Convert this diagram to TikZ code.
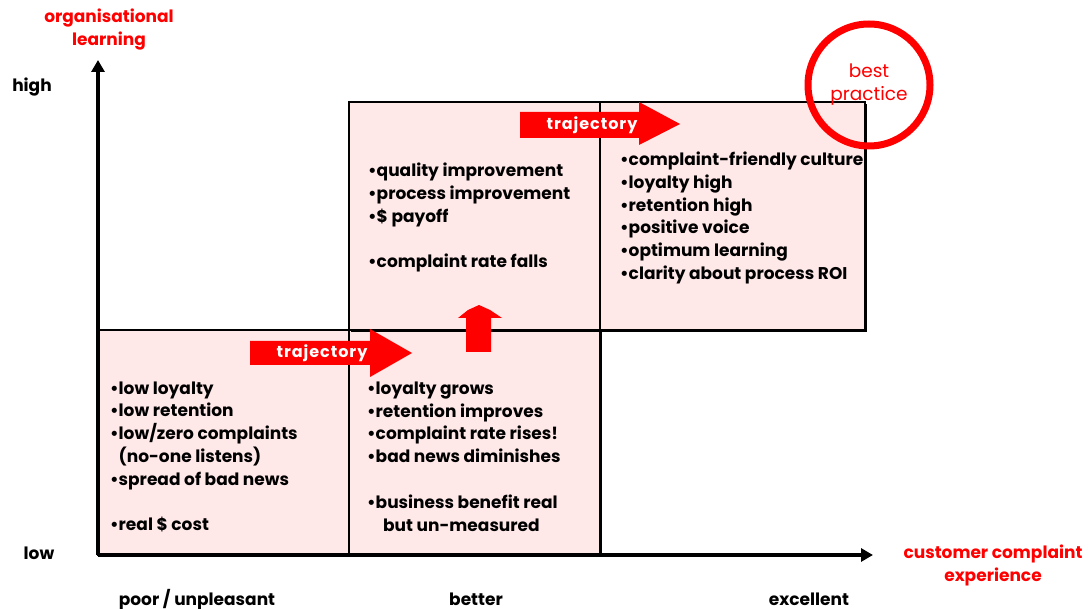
\documentclass[tikz,border=0pt]{standalone}
\usepackage{fontspec}
\setmainfont{Poppins}
\usetikzlibrary{arrows.meta,shadows}
\definecolor{boxpink}{RGB}{255,232,232}
\definecolor{hotred}{RGB}{255,0,0}

\begin{document}
\begin{tikzpicture}[x=1pt,y=-1pt,
  quad/.style={draw=black, line width=1.3pt, fill=boxpink, inner sep=0pt,
    drop shadow={shadow xshift=2pt, shadow yshift=-2pt, opacity=1, fill=black}},
  axisline/.style={line width=3.5pt, -{Triangle[length=12pt,width=13pt]}},
  axislabel/.style={inner sep=0pt, font=\fontsize{17}{23}\selectfont\bfseries},
  redlabel/.style={axislabel, text=hotred, align=center},
  bullets/.style={anchor=west, inner sep=0pt, align=left,
    font=\fontsize{17}{22.8}\selectfont\bfseries},
  trajtext/.style={inner sep=0pt, text=white,
    font=\fontsize{16}{18}\selectfont\bfseries\addfontfeature{LetterSpace=6}},
  bigarrow/.style={fill=hotred},
]
\useasboundingbox (0,0) rectangle (1090,609);

% the four quadrant panels
\node[quad, minimum width=251pt, minimum height=225pt] (poor)   at (223.5,442.5) {};
\node[quad, minimum width=251pt, minimum height=225pt] (better) at (474.5,442.5) {};
\node[quad, minimum width=251pt, minimum height=228pt] (learn)  at (474.5,216) {};
\node[quad, minimum width=265pt, minimum height=228pt] (best)   at (732.5,216) {};

% axes
\coordinate (origin) at (98,555);
\coordinate (ytip) at (98,60);
\coordinate (xtip) at (873,555);
\draw[axisline] (origin) -- (ytip);
\draw[axisline] (origin) -- (xtip);

% axis labels
\node[redlabel] (ylabel) at (109,30) {organisational\\learning};
\node[axislabel] (high) at (32,87) {high};
\node[axislabel] (low) at (39,553) {low};
\node[redlabel] (xlabel) at (993,565) {customer complaint\\experience};
\node[axislabel, anchor=base] (xpoor) at (197,605) {poor / unpleasant};
\node[axislabel, anchor=base] (xbetter) at (476,605) {better};
\node[axislabel, anchor=base] (xexcellent) at (809,605) {excellent};

% trajectory arrows
\fill[bigarrow] (250,341) -- (370,341) -- (370,329) -- (412,353) -- (370,377) -- (370,365) -- (250,365) -- cycle;
\node[trajtext] (traj1) at (322,353) {trajectory};
\fill[bigarrow] (520,112) -- (639,112) -- (639,102) -- (680,124) -- (639,145) -- (639,138) -- (520,138) -- cycle;
\node[trajtext] (traj2) at (592,125) {trajectory};
\fill[bigarrow] (466,352) -- (466,318) -- (458,318) -- (468,310) -- (479,305) -- (490,310) -- (502,318) -- (491,318) -- (491,352) -- cycle;

% best practice ring
\node[circle, draw=hotred, line width=7pt, minimum size=122pt, inner sep=0pt,
  align=center, text=hotred, font=\fontsize{18.5}{23}\selectfont] (ring) at (869,85) {best\\practice};

% quadrant contents
\node[bullets] (poortext) at (110,457) {\textbullet low loyalty\\
\textbullet low retention\\
\textbullet low/zero complaints\\
\hphantom{\textbullet}(no-one listens)\\
\textbullet spread of bad news\\[22.8pt]
\textbullet real \$ cost};
\node[bullets] (bettertext) at (367,456.5) {\textbullet loyalty grows\\
\textbullet retention improves\\
\textbullet complaint rate rises!\\
\textbullet bad news diminishes\\[22.8pt]
\textbullet business benefit real\\
\hspace{16pt}but un-measured};
\node[bullets] (learntext) at (368,217.5) {\textbullet quality improvement\\
\textbullet process improvement\\
\textbullet \$ payoff\\[22.8pt]
\textbullet complaint rate falls};
\node[bullets] (besttext) at (620,218) {\textbullet complaint-friendly culture\\
\textbullet loyalty high\\
\textbullet retention high\\
\textbullet positive voice\\
\textbullet optimum learning\\
\textbullet clarity about process ROI};
\end{tikzpicture}
\end{document}
